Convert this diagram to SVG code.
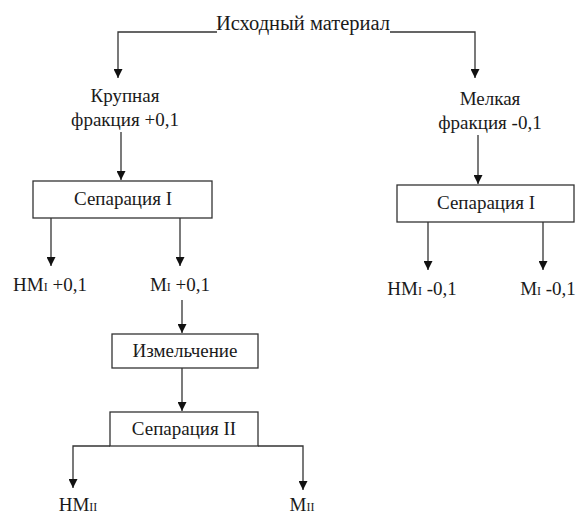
<svg xmlns="http://www.w3.org/2000/svg" width="578" height="516" viewBox="0 0 578 516">
<defs>
<marker id="arr" viewBox="0 0 10 10" refX="10" refY="5" markerWidth="9" markerHeight="9" markerUnits="userSpaceOnUse" orient="auto">
<path d="M0,0 L10,5 L0,10 z" fill="#111"/>
</marker>
<style>
text{font-family:'Liberation Serif','Times New Roman',serif;font-size:19px;fill:#1a1a1a;text-anchor:middle}
.title{font-size:20.5px}
.sub{font-size:12px}
.box{fill:#fff;stroke:#333;stroke-width:1.3}
.c{fill:none;stroke:#333;stroke-width:1.3;marker-end:url(#arr)}
</style>
</defs>
<rect width="578" height="516" fill="#fff"/>
<g id="connectors">
<path class="c" d="M217,32 H118 V78"/>
<path class="c" d="M390,32 H475 V78"/>
<path class="c" d="M121,132 V180"/>
<path class="c" d="M478,135 V184"/>
<path class="c" d="M51,218 V266"/>
<path class="c" d="M180,218 V266"/>
<path class="c" d="M428,222 V270"/>
<path class="c" d="M543,222 V270"/>
<path class="c" d="M182,300 V333"/>
<path class="c" d="M182,368 V411"/>
<path class="c" d="M110,446 H73 V488"/>
<path class="c" d="M258,446 H303 V490"/>
</g>
<g id="n-source"><text class="title" x="303" y="30">Исходный материал</text></g>
<g id="n-coarse"><text x="125" y="102">Крупная</text><text x="125" y="126">фракция +0,1</text></g>
<g id="n-fine"><text x="490" y="105">Мелкая</text><text x="490" y="129">фракция -0,1</text></g>
<g id="n-sep1-left"><rect class="box" x="33" y="181" width="179" height="37"/><text x="123" y="205">Сепарация I</text></g>
<g id="n-sep1-right"><rect class="box" x="397" y="185" width="177" height="37"/><text x="486" y="209">Сепарация I</text></g>
<g id="n-nm1-plus"><text x="50" y="291">НМ<tspan class="sub">I</tspan> +0,1</text></g>
<g id="n-m1-plus"><text x="180" y="291">М<tspan class="sub">I</tspan> +0,1</text></g>
<g id="n-nm1-minus"><text x="422" y="295">НМ<tspan class="sub">I</tspan> -0,1</text></g>
<g id="n-m1-minus"><text x="548" y="295">М<tspan class="sub">I</tspan> -0,1</text></g>
<g id="n-grind"><rect class="box" x="112" y="334" width="146" height="34"/><text x="185" y="357">Измельчение</text></g>
<g id="n-sep2"><rect class="box" x="110" y="412" width="148" height="34"/><text x="184" y="435">Сепарация II</text></g>
<g id="n-nm2"><text x="78" y="511">НМ<tspan class="sub">II</tspan></text></g>
<g id="n-m2"><text x="302" y="511">М<tspan class="sub">II</tspan></text></g>
</svg>
